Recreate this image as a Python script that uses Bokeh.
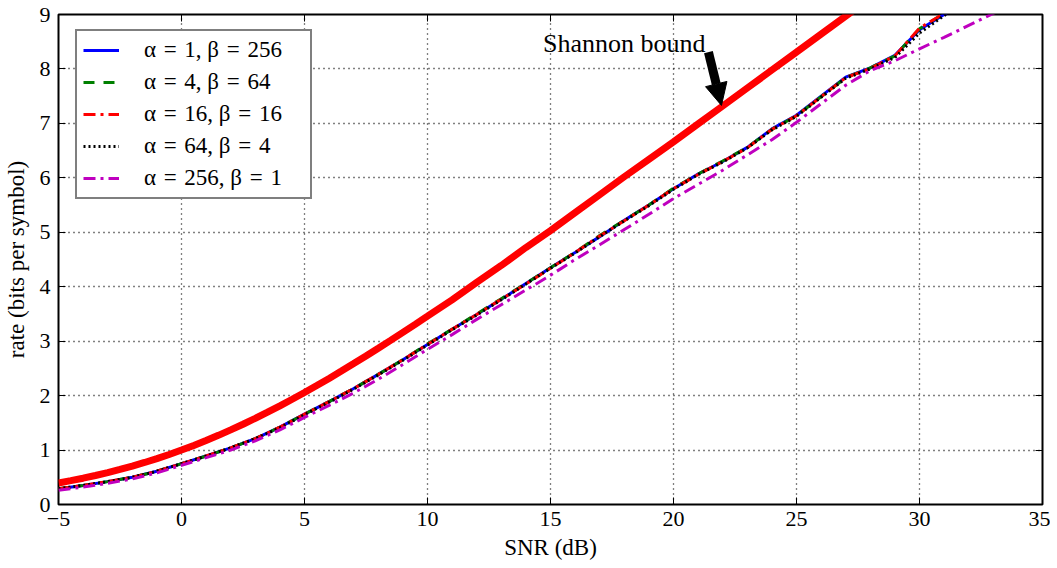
from bokeh.plotting import figure
from bokeh.models import (FixedTicker, LinearAxis, Legend, LegendItem, Arrow,
                          NormalHead, Label, CustomJSTickFormatter, Range1d)
from bokeh.embed import file_html
from bokeh.resources import INLINE

# ---------------- data ----------------
snr_shannon = [-5, -4.5, -4, -3.5, -3, -2.5, -2, -1.5, -1, -0.5, 0, 0.5, 1,
               1.5, 2, 2.5, 3, 3.5, 4, 4.5, 5, 5.5, 6, 6.5, 7, 7.5, 8, 8.5,
               9, 9.5, 10, 11, 12, 13, 14, 15, 16, 17, 18, 19, 20, 21, 22,
               23, 24, 25, 26, 27, 28]
rate_shannon = [0.396, 0.438, 0.483, 0.533, 0.586, 0.644, 0.706, 0.772,
                0.843, 0.919, 1.000, 1.085, 1.176, 1.270, 1.370, 1.474,
                1.583, 1.696, 1.812, 1.933, 2.057, 2.185, 2.316, 2.451,
                2.588, 2.727, 2.870, 3.014, 3.161, 3.309, 3.459, 3.76,
                4.08, 4.39, 4.72, 5.03, 5.36, 5.69, 6.02, 6.34, 6.66, 6.99,
                7.32, 7.65, 7.98, 8.31, 8.64, 8.97, 9.30]

snr_main = list(range(-5, 33))
rate_a1_b256 = [0.29, 0.35, 0.42, 0.50, 0.61, 0.75, 0.89, 1.04, 1.21, 1.42,
                1.66, 1.89, 2.13, 2.39, 2.66, 2.94, 3.22, 3.49, 3.77, 4.06,
                4.35, 4.63, 4.92, 5.22, 5.50, 5.80, 6.07, 6.30, 6.56, 6.90,
                7.15, 7.50, 7.85, 8.02, 8.25, 8.72, 9.00, 9.30]
rate_a4_b64 = [0.29, 0.35, 0.42, 0.50, 0.61, 0.75, 0.89, 1.04, 1.21, 1.42,
               1.66, 1.89, 2.13, 2.39, 2.66, 2.95, 3.22, 3.50, 3.78, 4.06,
               4.35, 4.63, 4.94, 5.22, 5.50, 5.81, 6.07, 6.31, 6.56, 6.89,
               7.14, 7.49, 7.84, 8.02, 8.24, 8.74, 9.02, 9.30]
rate_a16_b16 = [0.29, 0.35, 0.42, 0.50, 0.61, 0.75, 0.89, 1.04, 1.21, 1.42,
                1.66, 1.89, 2.13, 2.39, 2.66, 2.94, 3.22, 3.49, 3.77, 4.05,
                4.34, 4.63, 4.93, 5.21, 5.50, 5.80, 6.06, 6.30, 6.55, 6.89,
                7.14, 7.49, 7.84, 8.01, 8.24, 8.75, 9.02, 9.30]
rate_a64_b4 = [0.29, 0.35, 0.42, 0.50, 0.61, 0.75, 0.89, 1.04, 1.21, 1.41,
               1.65, 1.88, 2.12, 2.38, 2.65, 2.93, 3.21, 3.48, 3.76, 4.05,
               4.34, 4.62, 4.92, 5.21, 5.49, 5.79, 6.06, 6.29, 6.55, 6.88,
               7.13, 7.48, 7.83, 8.00, 8.21, 8.66, 8.98, 9.28]

snr_mag = list(range(-5, 35))
rate_a256_b1 = [0.26, 0.32, 0.39, 0.47, 0.58, 0.72, 0.86, 1.00, 1.17, 1.37,
                1.60, 1.82, 2.05, 2.30, 2.57, 2.85, 3.12, 3.40, 3.67, 3.94,
                4.21, 4.50, 4.77, 5.05, 5.33, 5.62, 5.88, 6.14, 6.42, 6.70,
                7.02, 7.36, 7.70, 7.97, 8.15, 8.37, 8.58, 8.80, 9.02, 9.22]

x_ticks = [-5, 0, 5, 10, 15, 20, 25, 30, 35]
y_ticks = [0, 1, 2, 3, 4, 5, 6, 7, 8, 9]

SP = "\u2004"
series_labels = [f"α{SP}={SP}1, β{SP}={SP}256", f"α{SP}={SP}4, β{SP}={SP}64",
                 f"α{SP}={SP}16, β{SP}={SP}16", f"α{SP}={SP}64, β{SP}={SP}4",
                 f"α{SP}={SP}256, β{SP}={SP}1"]

annot_text = "Shannon bound"
annot_xy = (18.0, 8.46)
arrow_start = (21.42, 8.31)
arrow_end = (21.95, 7.33)

FONT = "Liberation Serif"

# ---------------- figure ----------------
p = figure(frame_width=984, frame_height=490,
           x_range=Range1d(-5, 35), y_range=Range1d(0, 9),
           output_backend="svg", toolbar_location=None,
           min_border_left=57, min_border_right=8, min_border_top=14,
           min_border_bottom=50)
p.background_fill_color = "white"
p.border_fill_color = "white"
p.outline_line_color = "black"
p.outline_line_width = 2

minus_fmt = CustomJSTickFormatter(
    code="return tick < 0 ? '\u2212' + Math.abs(tick) : String(tick);")

for ax in (p.xaxis[0], p.yaxis[0]):
    ax.axis_line_color = None
    ax.major_tick_in = 7
    ax.major_tick_out = 0
    ax.major_tick_line_color = "black"
    ax.minor_tick_line_color = None
    ax.major_label_text_font = FONT
    ax.major_label_text_font_size = "22px"
    ax.major_label_text_color = "black"
    ax.axis_label_text_font = FONT
    ax.axis_label_text_font_size = "23px"
    ax.axis_label_text_font_style = "normal"
    ax.axis_label_text_color = "black"
    ax.formatter = minus_fmt

p.xaxis[0].ticker = FixedTicker(ticks=x_ticks)
p.yaxis[0].ticker = FixedTicker(ticks=y_ticks)
p.xaxis[0].axis_label = "SNR (dB)"
p.yaxis[0].axis_label = "rate (bits per symbol)"
p.xaxis[0].major_label_standoff = 7
p.yaxis[0].major_label_standoff = 8
p.xaxis[0].axis_label_standoff = 6
p.yaxis[0].axis_label_standoff = 8

# ticks on top and right, no labels
top_ax = LinearAxis(ticker=FixedTicker(ticks=x_ticks), axis_line_color=None,
                    major_tick_in=7, major_tick_out=0, minor_tick_line_color=None,
                    major_label_text_color=None, major_label_text_font_size="1px",
                    major_label_standoff=0)
right_ax = LinearAxis(ticker=FixedTicker(ticks=y_ticks), axis_line_color=None,
                      major_tick_in=7, major_tick_out=0, minor_tick_line_color=None,
                      major_label_text_color=None, major_label_text_font_size="1px",
                      major_label_standoff=0)
p.add_layout(top_ax, "above")
p.add_layout(right_ax, "right")

p.xgrid.ticker = FixedTicker(ticks=x_ticks)
p.ygrid.ticker = FixedTicker(ticks=y_ticks)
for g in (p.xgrid[0], p.ygrid[0]):
    g.grid_line_color = "black"
    g.grid_line_dash = "1 4"
    g.grid_line_width = 1.3

# ---------------- lines ----------------
r_sh = p.line(snr_shannon, rate_shannon, line_color="#ff0000", line_width=7)
r1 = p.line(snr_main, rate_a1_b256, line_color="#0000ff", line_width=3)
r2 = p.line(snr_main, rate_a4_b64, line_color="#008000", line_width=3,
            line_dash="11 9")
r3 = p.line(snr_main, rate_a16_b16, line_color="#ff0000", line_width=3,
            line_dash="12 5 3 5")
r4 = p.line(snr_main, rate_a64_b4, line_color="#000000", line_width=3,
            line_dash="2 3")
r5 = p.line(snr_mag, rate_a256_b1, line_color="#bf00bf", line_width=3,
            line_dash="12 5 3 5")

legend = Legend(items=[LegendItem(label=l, renderers=[r])
                       for l, r in zip(series_labels, [r1, r2, r3, r4, r5])],
                location=(17, 305))
legend.label_text_font = FONT
legend.label_text_font_size = "23px"
legend.label_text_color = "black"
legend.border_line_color = "black"
legend.border_line_width = 2
legend.background_fill_alpha = 1
legend.glyph_width = 36
legend.glyph_height = 26
legend.label_height = 26
legend.label_width = 160
legend.spacing = 6
legend.padding = 6
legend.label_standoff = 25
legend.margin = 0
p.add_layout(legend, "center")

# ---------------- annotation ----------------
p.add_layout(Arrow(end=NormalHead(size=22, fill_color="black",
                                  line_color="black"),
                   x_start=arrow_start[0], y_start=arrow_start[1],
                   x_end=arrow_end[0], y_end=arrow_end[1],
                   line_width=9, line_color="black"))
p.add_layout(Label(x=annot_xy[0], y=annot_xy[1], text=annot_text,
                   text_font=FONT, text_font_size="26px",
                   text_align="center", text_baseline="middle",
                   text_color="black"))

open("out.html", "w").write(file_html(p, INLINE))
